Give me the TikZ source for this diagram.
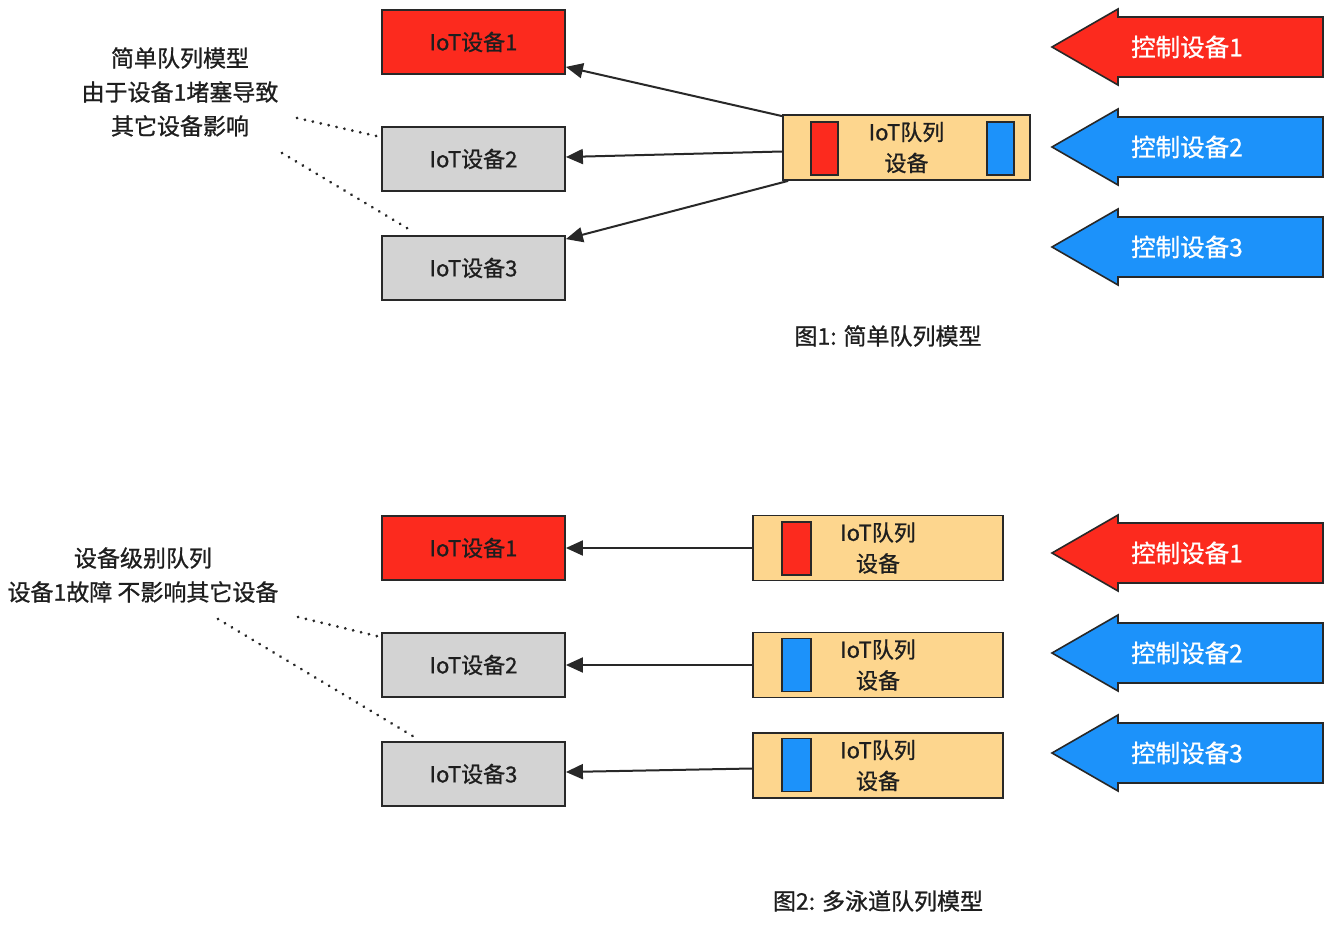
\documentclass[tikz,border=0pt]{standalone}
\usepackage{fontspec}
\setmainfont{Noto Sans CJK SC}[FakeBold=0.9]
\usetikzlibrary{arrows.meta,calc}
\definecolor{cred}{RGB}{252,42,30}
\definecolor{cblue}{RGB}{28,146,250}
\definecolor{cgray}{RGB}{211,211,211}
\definecolor{corange}{RGB}{253,214,142}
\definecolor{cline}{RGB}{40,40,40}
\definecolor{ctext}{RGB}{30,30,30}
\newcommand\ctrlarr[4]{%
  \draw[draw=cline,line width=1.6pt,fill=#3,line join=miter]
    (1323,#2-30) -- (1118,#2-30) -- (1118,#2-38) -- (1052,#2) -- (1118,#2+38) -- (1118,#2+30) -- (1323,#2+30) -- cycle;
  \node[ctrltext] (#1) at (1187,#2) {#4};}
\begin{document}
\begin{tikzpicture}[x=1pt,y=-1pt,
  dev/.style={draw=cline,line width=1.8pt,minimum width=183pt,minimum height=64pt,inner sep=0pt,font=\fontsize{22}{24}\selectfont,text=ctext},
  queue/.style={draw=cline,line width=1.8pt,fill=corange,minimum height=65pt,inner sep=0pt,align=center,font=\fontsize{22}{31}\selectfont,text=ctext},
  slot/.style={draw=cline,line width=1.6pt,minimum width=27pt,minimum height=53pt,inner sep=0pt},
  ctrltext/.style={inner sep=0pt,text=white,font=\fontsize{24.5}{28}\selectfont},
  conn/.style={draw=cline,line width=2pt,-{Triangle[length=17pt,width=15pt]}},
  note/.style={align=center,font=\fontsize{23}{34}\selectfont,text=ctext,inner sep=0pt},
  dots/.style={draw=cline,line width=3pt,dash pattern=on 0.1pt off 8pt,line cap=round},
  figcap/.style={font=\fontsize{23}{24}\selectfont,text=ctext,inner sep=0pt}]
\useasboundingbox (0,0) rectangle (1336,925);
\fill[white] (0,0) rectangle (1336,925);

% ---------- Figure 1 ----------
\node[dev,fill=cred] (d1) at (473.5,42) {IoT设备1};
\node[dev,fill=cgray] (d2) at (473.5,159) {IoT设备2};
\node[dev,fill=cgray] (d3) at (473.5,268) {IoT设备3};
\node[queue,minimum width=247pt] (q) at (906.5,147.5) {IoT队列\\设备};
\node[slot,fill=cred] (qr) at (824.5,148.5) {};
\node[slot,fill=cblue] (qb) at (1000.5,148.5) {};
\draw[conn] ([yshift=-2pt]q.north west) -- ([yshift=8pt]d1.south east);
\draw[conn] ([yshift=-4pt]q.west) -- ([yshift=2pt]d2.east);
\draw[conn] ([xshift=6pt]q.south west) -- ([yshift=-4pt]d3.north east);

\ctrlarr{c1}{47}{cred}{控制设备1}
\ctrlarr{c2}{147}{cblue}{控制设备2}
\ctrlarr{c3}{247}{cblue}{控制设备3}

\node[note] (n1) at (180,92) {简单队列模型\\由于设备1堵塞导致\\其它设备影响};
\coordinate (n1a) at (297,118);
\coordinate (n1b) at (282,153);
\draw[dots] (n1a) -- ([yshift=-11pt]d2.north west);
\draw[dots] (n1b) -- ($(d3.north west)+(31,-4)$);

\node[figcap] (cap1) at (888,336) {图1: 简单队列模型};

% ---------- Figure 2 ----------
\node[dev,fill=cred] (e1) at (473.5,548) {IoT设备1};
\node[dev,fill=cgray] (e2) at (473.5,665) {IoT设备2};
\node[dev,fill=cgray] (e3) at (473.5,774) {IoT设备3};

\node[queue,minimum width=250pt] (p1) at (878,548) {IoT队列\\设备};
\node[queue,minimum width=250pt] (p2) at (878,665) {IoT队列\\设备};
\node[queue,minimum width=250pt] (p3) at (878,765.5) {IoT队列\\设备};
\node[slot,fill=cred,minimum width=29pt] (s1) at (796.5,548.5) {};
\node[slot,fill=cblue,minimum width=29pt] (s2) at (796.5,665) {};
\node[slot,fill=cblue,minimum width=29pt] (s3) at (796.5,765) {};

\draw[conn] (p1.west) -- (e1.east);
\draw[conn] (p2.west) -- (e2.east);
\draw[conn] ([yshift=-3pt]p3.west) -- ([yshift=2pt]e3.east);

\ctrlarr{k1}{553}{cred}{控制设备1}
\ctrlarr{k2}{653}{cblue}{控制设备2}
\ctrlarr{k3}{753}{cblue}{控制设备3}

\node[note] (n2) at (143,575) {设备级别队列\\设备1故障 不影响其它设备};
\coordinate (n2a) at (298,617);
\coordinate (n2b) at (218,619);
\draw[dots] (n2a) -- ([yshift=-5pt]e2.north west);
\draw[dots] (n2b) -- ($(e3.north west)+(35,-3)$);

\node[figcap] (cap2) at (878,901) {图2: 多泳道队列模型};
\end{tikzpicture}
\end{document}
